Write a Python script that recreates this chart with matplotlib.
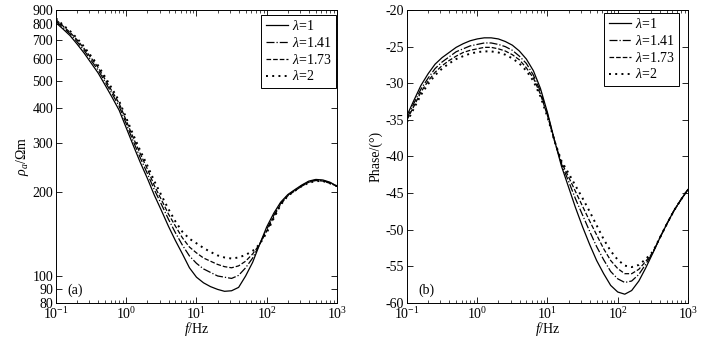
import matplotlib
matplotlib.use('Agg')
import matplotlib.pyplot as plt
from matplotlib.ticker import FixedLocator, NullLocator, LogLocator, FixedFormatter

plt.rcParams['font.family'] = ['Liberation Serif', 'DejaVu Serif']
plt.rcParams['mathtext.fontset'] = 'custom'
plt.rcParams['mathtext.rm'] = 'Liberation Serif'
plt.rcParams['mathtext.it'] = 'Liberation Serif:italic'
plt.rcParams['axes.unicode_minus'] = False
plt.rcParams['font.size'] = 10

#Frequencies (Hz), 10 samples per decade
freq = [0.1, 0.126, 0.158, 0.2, 0.251, 0.316, 0.398, 0.501, 0.631, 0.794,
        1, 1.26, 1.58, 2, 2.51, 3.16, 3.98, 5.01, 6.31, 7.94,
        10, 12.6, 15.8, 20, 25.1, 31.6, 39.8, 50.1, 63.1, 79.4,
        100, 126, 158, 200, 251, 316, 398, 501, 631, 794, 1000]

labels = ['$\\lambda$=1', '$\\lambda$=1.41', '$\\lambda$=1.73', '$\\lambda$=2']

#Apparent resistivity (Ohm m)
rho_1 = [810, 769, 729, 679, 631, 581, 535, 484, 437, 393,
         340, 294, 256, 224, 195, 172, 151, 134, 120, 107,
         99, 94.5, 91.6, 89.5, 88.1, 88.5, 91, 100, 112, 130,
         150, 168, 184, 196, 204, 212, 219, 222, 221, 217, 210]
rho_141 = [822, 779, 740, 692, 645, 594, 548, 497, 450, 406,
           352, 304, 266, 233, 204, 181, 160, 143, 129, 118,
           111, 106, 103, 100, 99, 98, 100.5, 107, 116, 130,
           147, 165, 182, 195, 203, 211, 218, 221, 220, 216, 210]
rho_173 = [831, 788, 749, 703, 655, 606, 560, 507, 459, 416,
           361, 313, 275, 242, 211, 188, 167, 151, 137, 127,
           121, 116, 113, 110, 108, 107, 108.7, 113, 120, 130,
           145, 163, 181, 194, 202, 210, 217, 220, 219, 215, 210]
rho_2 = [840, 795, 757, 712, 665, 615, 569, 517, 469, 424,
         369, 321, 282, 249, 219, 195, 174, 157, 144, 136,
         131, 126, 122, 118.5, 116.5, 115.5, 116.5, 119, 123, 130,
         143, 161, 180, 194, 202, 210, 216, 219, 219, 215, 210]

#Phase (degrees)
phase_1 = [-34.4, -32.3, -30.3, -28.7, -27.4, -26.5, -25.8, -25.1, -24.6, -24.2,
           -23.95, -23.8, -23.8, -23.95, -24.3, -24.8, -25.6, -26.7, -28.3, -30.7,
           -34.0, -37.8, -41.3, -44.2, -47.0, -49.6, -52.0, -54.2, -56.0, -57.6,
           -58.5, -58.8, -58.3, -57.0, -55.2, -53.2, -51.1, -49.2, -47.4, -45.9, -44.5]
phase_141 = [-34.8, -32.7, -30.8, -29.3, -28.0, -27.1, -26.4, -25.7, -25.3, -24.9,
             -24.7, -24.5, -24.5, -24.7, -25.0, -25.5, -26.3, -27.3, -28.9, -31.1,
             -34.2, -37.8, -41.0, -43.4, -45.8, -48.0, -50.2, -52.3, -54.1, -55.7,
             -56.7, -57.2, -57.0, -56.1, -54.7, -53.1, -51.1, -49.2, -47.4, -45.9, -44.5]
phase_173 = [-35.0, -33.1, -31.2, -29.7, -28.5, -27.6, -26.9, -26.3, -25.8, -25.5,
             -25.3, -25.1, -25.1, -25.3, -25.6, -26.1, -26.8, -27.9, -29.3, -31.5,
             -34.4, -37.9, -40.8, -42.8, -44.8, -46.8, -48.8, -50.7, -52.6, -54.2,
             -55.3, -56.0, -56.0, -55.4, -54.3, -53.1, -51.1, -49.2, -47.4, -45.9, -44.5]
phase_2 = [-35.3, -33.4, -31.6, -30.1, -28.9, -28.0, -27.3, -26.7, -26.3, -25.95,
           -25.75, -25.65, -25.65, -25.8, -26.1, -26.6, -27.3, -28.3, -29.7, -31.8,
           -34.6, -37.9, -40.6, -42.3, -44.0, -45.7, -47.5, -49.4, -51.3, -52.9,
           -54.1, -54.9, -55.1, -54.8, -54.0, -53.0, -51.1, -49.2, -47.4, -45.9, -44.5]

rho_ticks = [80, 90, 100, 200, 300, 400, 500, 600, 700, 800, 900]
phase_ticks = [-60, -55, -50, -45, -40, -35, -30, -25, -20]

styles = [dict(linestyle='-', linewidth=0.9),
          dict(linestyle='-.', linewidth=0.9),
          dict(linestyle='--', linewidth=0.9),
          dict(linestyle=(0, (1, 2.2)), linewidth=1.4)]

fig = plt.figure(figsize=(7.27, 3.38), dpi=100)
ax1 = fig.add_axes([0.077, 0.1036, 0.3865, 0.8668])
ax2 = fig.add_axes([0.5598, 0.1036, 0.3865, 0.8668])

leg_opts = dict(handlelength=1.65, handletextpad=0.25, borderpad=0.3,
                labelspacing=0.2, borderaxespad=0, fancybox=False,
                edgecolor='black', framealpha=1, fontsize=10)

#Panel (a): apparent resistivity
for vals, lab, st in zip([rho_1, rho_141, rho_173, rho_2], labels, styles):
	ax1.plot(freq, vals, color='black', label=lab, **st)
ax1.set_xscale('log')
ax1.set_yscale('log')
ax1.set_xlim(0.1, 1000)
ax1.set_ylim(80, 900)
ax1.yaxis.set_major_locator(FixedLocator(rho_ticks))
ax1.yaxis.set_major_formatter(FixedFormatter([str(t) for t in rho_ticks]))
ax1.yaxis.set_minor_locator(NullLocator())
ax1.set_ylabel('$\\rho_a$/$\\Omega$m', labelpad=1)
ax1.text(0.04, 0.045, '(a)', transform=ax1.transAxes, va='center', ha='left')
ax1.legend(loc='upper right', bbox_to_anchor=(0.9964, 0.983), **leg_opts)

#Panel (b): phase
for vals, lab, st in zip([phase_1, phase_141, phase_173, phase_2], labels, styles):
	ax2.plot(freq, vals, color='black', label=lab, **st)
ax2.set_xscale('log')
ax2.set_xlim(0.1, 1000)
ax2.set_ylim(-60, -20)
ax2.set_yticks(phase_ticks)
ax2.set_ylabel('Phase/(°)', labelpad=2)
ax2.text(0.04, 0.045, '(b)', transform=ax2.transAxes, va='center', ha='left')
ax2.legend(loc='upper right', bbox_to_anchor=(0.968, 0.99), **leg_opts)

#Common axis styling (MATLAB look)
for ax in [ax1, ax2]:
	ax.xaxis.set_major_locator(LogLocator(base=10, numticks=10))
	ax.xaxis.set_minor_locator(LogLocator(base=10, subs=range(2, 10), numticks=10))
	ax.tick_params(which='both', direction='in', top=True, right=True, labelsize=10, pad=2)
	ax.tick_params(which='major', length=4, width=0.6)
	ax.tick_params(which='minor', length=2, width=0.5)
	for sp in ax.spines.values():
		sp.set_linewidth(0.7)
	ax.set_xlabel('$f$/Hz', labelpad=-1)
	ax.get_legend().get_frame().set_linewidth(0.7)

fig.savefig('out.png', dpi=100)
